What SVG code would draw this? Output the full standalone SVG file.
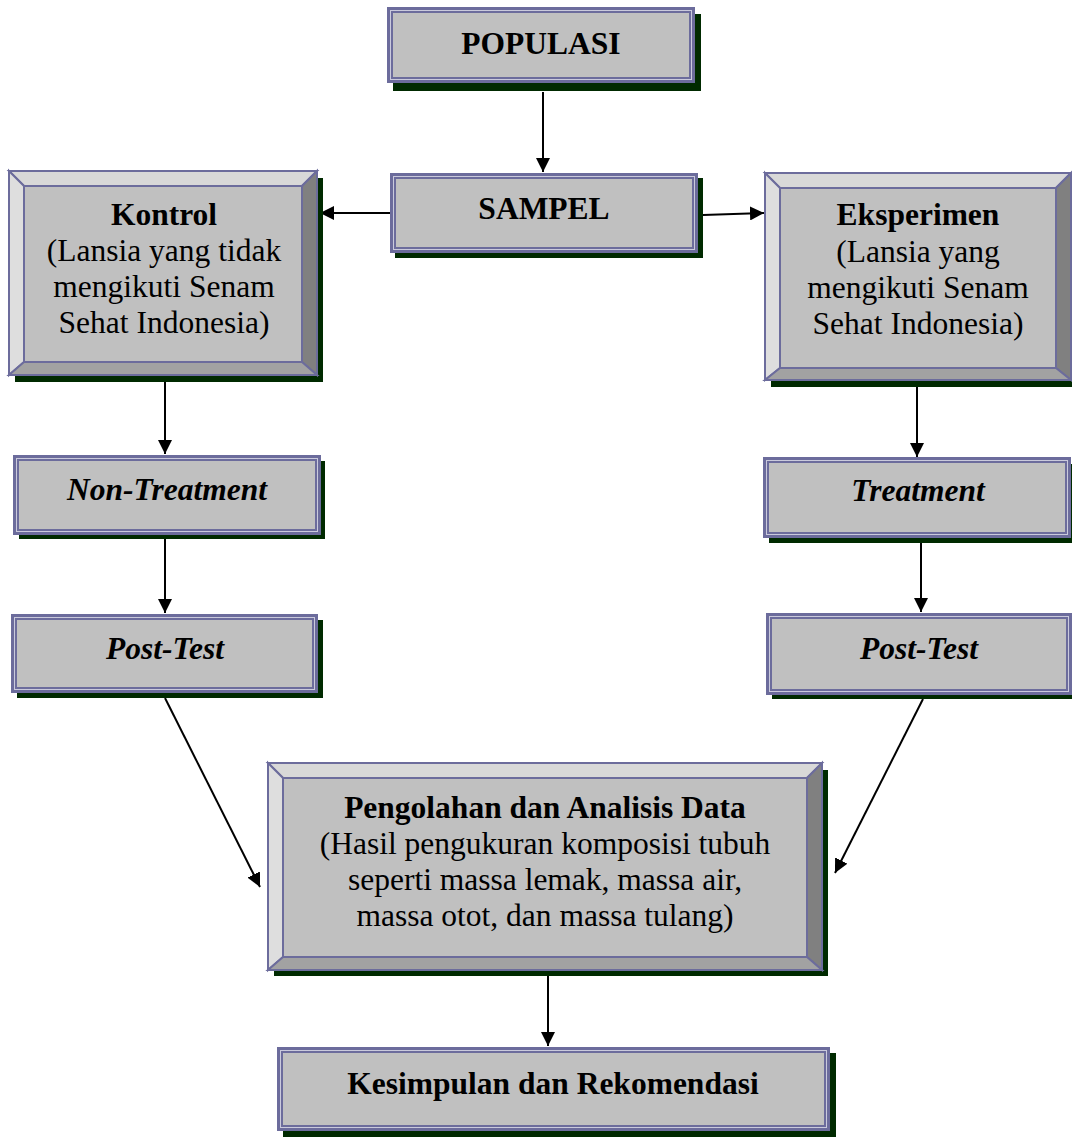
<svg xmlns="http://www.w3.org/2000/svg" width="1072" height="1141" viewBox="0 0 1072 1141">
<style>
  .shadow { fill: #002a00; }
  .frame { fill: #C0C0C0; stroke: #6C6C9C; stroke-width: 6; }
  .frameLine { fill: none; stroke: #CACADC; stroke-width: 1; }
  .bv { stroke: #6C6C9C; stroke-width: 2; stroke-linejoin: miter; }
  .bt { fill: #D8D8D8; }
  .bl { fill: #DEDEDE; }
  .br { fill: #808080; }
  .bb { fill: #A2A2A2; }
  .bi { fill: #C0C0C0; stroke: #6C6C9C; stroke-width: 2; }
  text { font-family: "Liberation Serif", "Times New Roman", serif; font-size: 31.5px; fill: #000; text-anchor: middle; }
  .b { font-weight: bold; }
  .bi-t { font-weight: bold; font-style: italic; }
  .conn line { stroke: #000; stroke-width: 2; fill: none; }
</style>
<defs>
  <marker id="arr" markerUnits="userSpaceOnUse" markerWidth="14" markerHeight="14" viewBox="0 0 14 14" refX="14" refY="7" orient="auto">
    <path d="M0,0 L14,7 L0,14 z" fill="#000"/>
  </marker>
</defs>
<rect width="1072" height="1141" fill="#fff"/>

<g class="conn">
  <line x1="543" y1="92" x2="543" y2="172" marker-end="url(#arr)"/>
  <line x1="390" y1="213" x2="320" y2="213" marker-end="url(#arr)"/>
  <line x1="703" y1="215" x2="764" y2="213" marker-end="url(#arr)"/>
  <line x1="165" y1="382" x2="165" y2="454" marker-end="url(#arr)"/>
  <line x1="165" y1="539" x2="165" y2="613" marker-end="url(#arr)"/>
  <line x1="917" y1="387" x2="917" y2="457" marker-end="url(#arr)"/>
  <line x1="921" y1="543" x2="921" y2="612" marker-end="url(#arr)"/>
  <line x1="165" y1="698" x2="260" y2="887" marker-end="url(#arr)"/>
  <line x1="923" y1="699" x2="835" y2="873" marker-end="url(#arr)"/>
  <line x1="548" y1="975" x2="548" y2="1046" marker-end="url(#arr)"/>
</g>

<g id="populasi">
  <rect class="shadow" x="393" y="14" width="308" height="77"/>
  <rect class="frame" x="390" y="10" width="302" height="70"/>
  <rect class="frameLine" x="390.5" y="10.5" width="301" height="69"/>
  <text class="b" x="541" y="54">POPULASI</text>
</g>

<g id="sampel">
  <rect class="shadow" x="395" y="178" width="308" height="80"/>
  <rect class="frame" x="393" y="176" width="302" height="74"/>
  <rect class="frameLine" x="393.5" y="176.5" width="301" height="73"/>
  <text class="b" x="544" y="219">SAMPEL</text>
</g>

<g id="kontrol">
  <rect class="shadow" x="15" y="178" width="308" height="204"/>
  <polygon class="bv bt" points="9,171 317,171 302,186 24,186"/>
  <polygon class="bv bl" points="9,171 24,186 24,362 9,375"/>
  <polygon class="bv br" points="317,171 317,375 302,362 302,186"/>
  <polygon class="bv bb" points="9,375 24,362 302,362 317,375"/>
  <rect class="bi" x="24" y="186" width="278" height="176"/>
  <text class="b" x="164" y="225">Kontrol</text>
  <text x="164" y="261">(Lansia yang tidak</text>
  <text x="164" y="297">mengikuti Senam</text>
  <text x="164" y="333">Sehat Indonesia)</text>
</g>

<g id="eksperimen">
  <rect class="shadow" x="771" y="180" width="308" height="207"/>
  <polygon class="bv bt" points="765,173 1071,173 1056,188 780,188"/>
  <polygon class="bv bl" points="765,173 780,188 780,368 765,380"/>
  <polygon class="bv br" points="1071,173 1071,380 1056,368 1056,188"/>
  <polygon class="bv bb" points="765,380 780,368 1056,368 1071,380"/>
  <rect class="bi" x="780" y="188" width="276" height="180"/>
  <text class="b" x="918" y="225">Eksperimen</text>
  <text x="918" y="262">(Lansia yang</text>
  <text x="918" y="298">mengikuti Senam</text>
  <text x="918" y="334">Sehat Indonesia)</text>
</g>

<g id="nontreatment">
  <rect class="shadow" x="19" y="461" width="306" height="78"/>
  <rect class="frame" x="16" y="458" width="302" height="74"/>
  <rect class="frameLine" x="16.5" y="458.5" width="301" height="73"/>
  <text class="bi-t" x="167" y="500">Non-Treatment</text>
</g>

<g id="posttest-l">
  <rect class="shadow" x="17" y="620" width="306" height="78"/>
  <rect class="frame" x="14" y="617" width="301" height="73"/>
  <rect class="frameLine" x="14.5" y="617.5" width="300" height="72"/>
  <text class="bi-t" x="165" y="659">Post-Test</text>
</g>

<g id="treatment">
  <rect class="shadow" x="769" y="464" width="306" height="79"/>
  <rect class="frame" x="766" y="460" width="302" height="75"/>
  <rect class="frameLine" x="766.5" y="460.5" width="301" height="74"/>
  <text class="bi-t" x="918" y="501">Treatment</text>
</g>

<g id="posttest-r">
  <rect class="shadow" x="772" y="620" width="306" height="79"/>
  <rect class="frame" x="769" y="616" width="300" height="76"/>
  <rect class="frameLine" x="769.5" y="616.5" width="299" height="75"/>
  <text class="bi-t" x="919" y="659">Post-Test</text>
</g>

<g id="pengolahan">
  <rect class="shadow" x="274" y="770" width="554" height="206"/>
  <polygon class="bv bt" points="268,763 822,763 807,778 283,778"/>
  <polygon class="bv bl" points="268,763 283,778 283,957 268,970"/>
  <polygon class="bv br" points="822,763 822,970 807,957 807,778"/>
  <polygon class="bv bb" points="268,970 283,957 807,957 822,970"/>
  <rect class="bi" x="283" y="778" width="524" height="179"/>
  <text class="b" x="545" y="818">Pengolahan dan Analisis Data</text>
  <text x="545" y="854">(Hasil pengukuran komposisi tubuh</text>
  <text x="545" y="890">seperti massa lemak, massa air,</text>
  <text x="545" y="926">massa otot, dan massa tulang)</text>
</g>

<g id="kesimpulan">
  <rect class="shadow" x="283" y="1053" width="553" height="84"/>
  <rect class="frame" x="280" y="1050" width="547" height="78"/>
  <rect class="frameLine" x="280.5" y="1050.5" width="546" height="77"/>
  <text class="b" x="553" y="1094">Kesimpulan dan Rekomendasi</text>
</g>
</svg>
